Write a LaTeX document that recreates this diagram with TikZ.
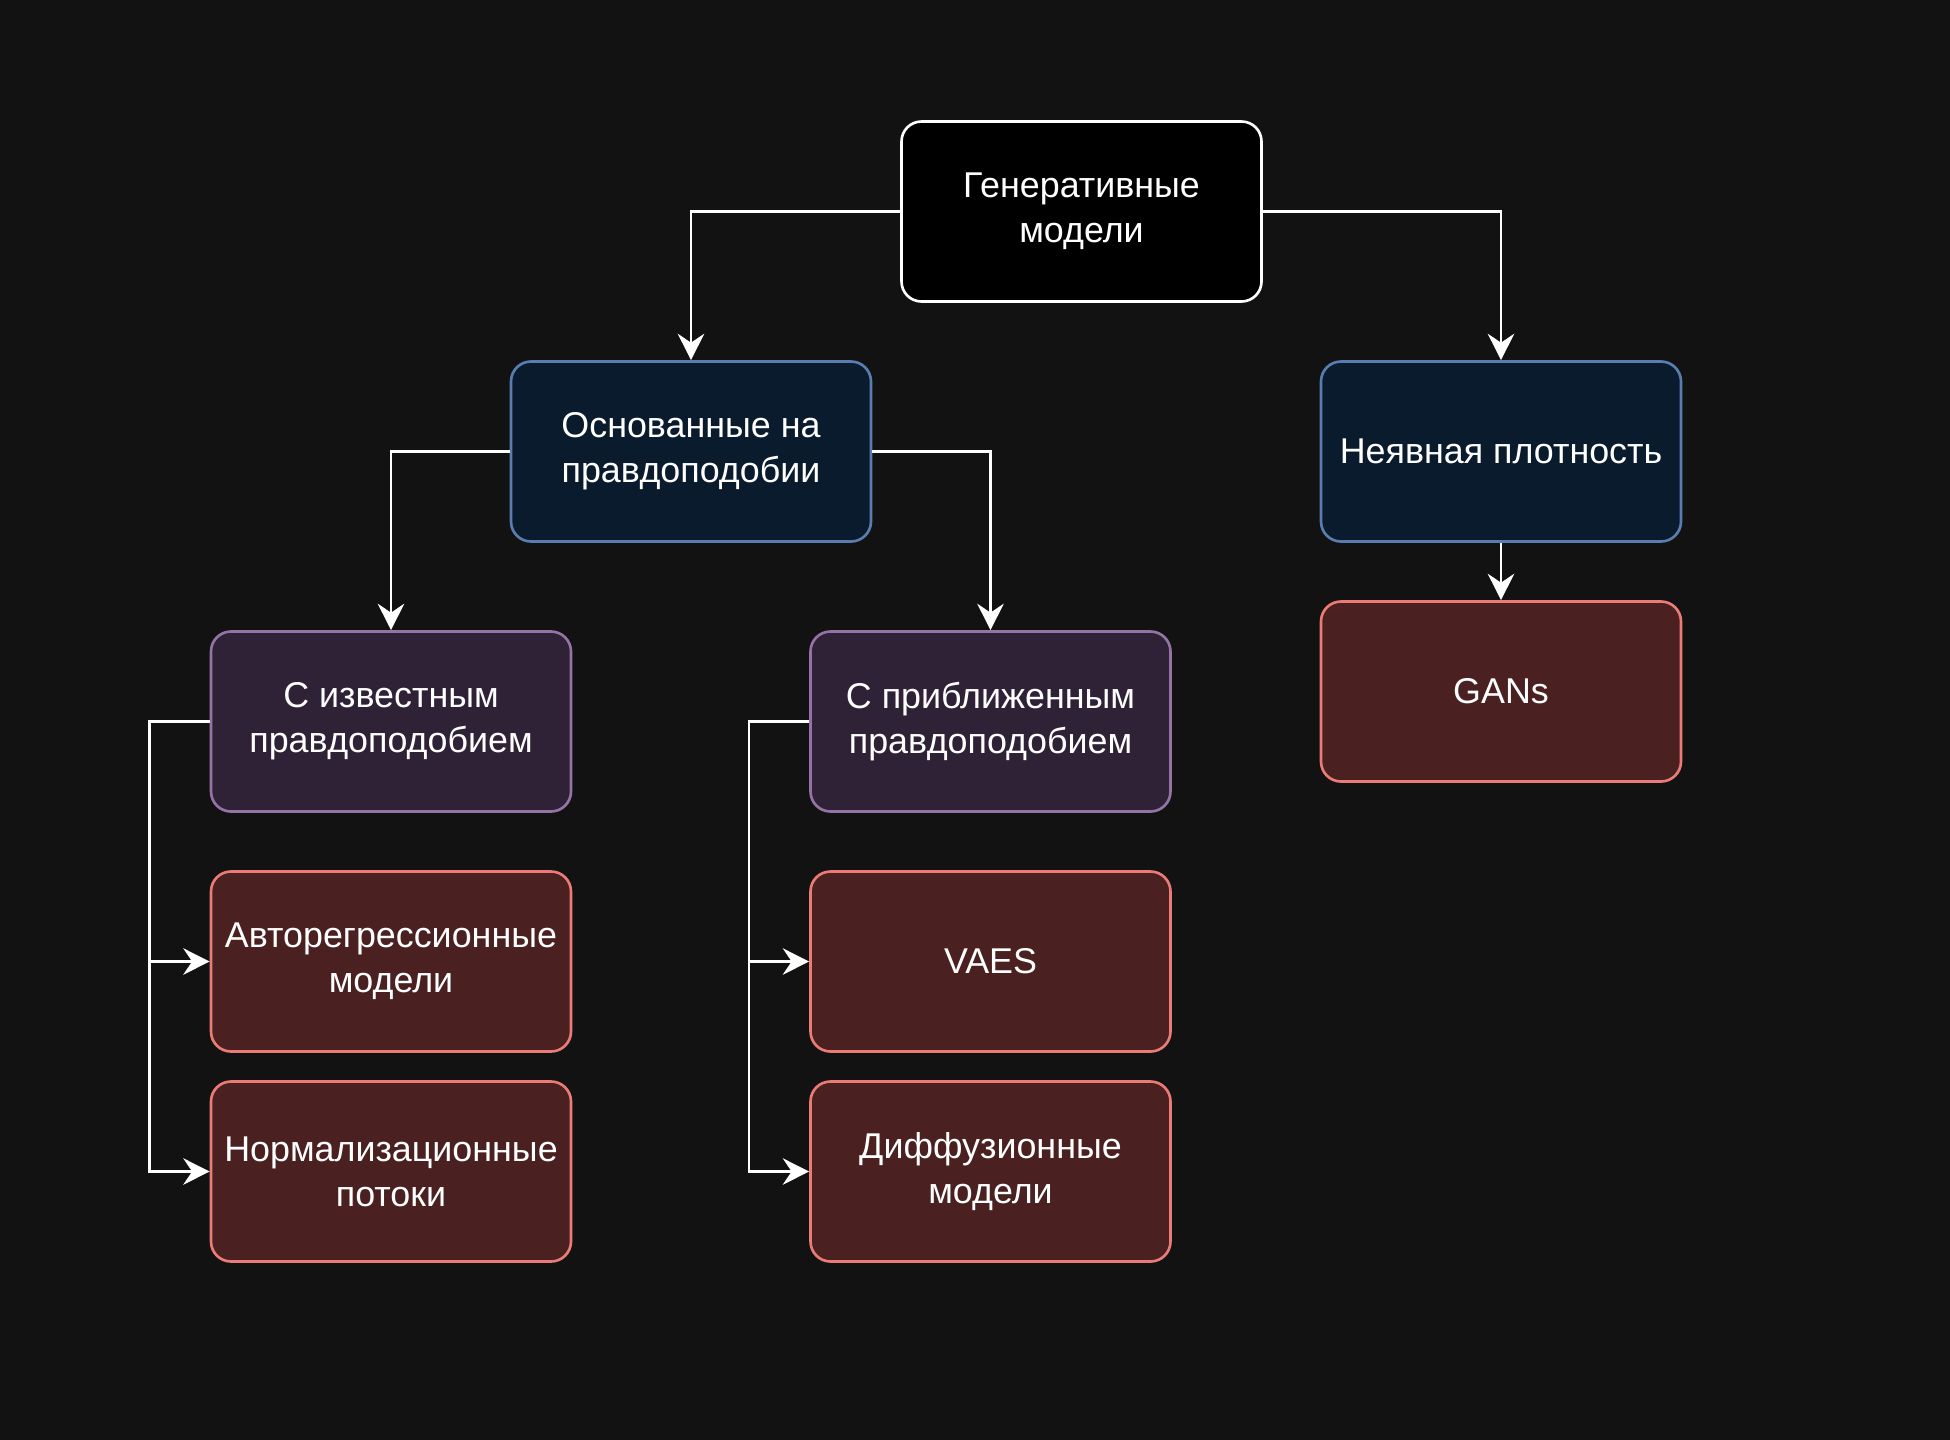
\documentclass[tikz,border=0pt]{standalone}
\usepackage{fontspec}
\setmainfont{Liberation Sans}
\usepackage{xcolor}
\usetikzlibrary{arrows.meta}
\definecolor{PageBg}{HTML}{121212}
\definecolor{BlueFill}{HTML}{0B1B2E}
\definecolor{BlueLine}{HTML}{5A7DB0}
\definecolor{PurpleFill}{HTML}{2F2236}
\definecolor{PurpleLine}{HTML}{9673A6}
\definecolor{RedFill}{HTML}{4A2020}
\definecolor{RedLine}{HTML}{EA7B76}

\begin{document}
\begin{tikzpicture}[every node/.style={font=\fontsize{10.2}{12.8}\selectfont, text=white},
                    box/.style={rounded corners=0.2cm, line width=0.75pt,
                                minimum width=3.6cm, minimum height=1.8cm,
                                inner sep=2pt, align=center},
                    rootbox/.style={box, draw=white, fill=black},
                    bluebox/.style={box, draw=BlueLine, fill=BlueFill},
                    purplebox/.style={box, draw=PurpleLine, fill=PurpleFill},
                    redbox/.style={box, draw=RedLine, fill=RedFill},
                    ar/.style={-{Stealth[length=7.5pt,width=7.5pt,inset=2.5pt]},white,line width=0.7pt}]
      \fill[PageBg] (0,0) rectangle (19.5,-14.4);
      \node[rootbox] (gen) at (10.815,-2.115) {Генеративные\\модели};
      \node[bluebox] (lik) at (6.91,-4.515) {Основанные на\\правдоподобии};
      \node[bluebox] (impl) at (15.01,-4.515) {Неявная плотность};
      \node[redbox] (gans) at (15.01,-6.915) {GANs};
      \node[purplebox] (known) at (3.91,-7.215) {С известным\\правдоподобием};
      \node[purplebox] (approx) at (9.905,-7.215) {С приближенным\\правдоподобием};
      \node[redbox] (autoreg) at (3.91,-9.615) {Авторегрессионные\\модели};
      \node[redbox] (flows) at (3.91,-11.715) {Нормализационные\\потоки};
      \node[redbox] (vaes) at (9.905,-9.615) {VAES};
      \node[redbox] (diff) at (9.905,-11.715) {Диффузионные\\модели};
      \draw[ar] (gen.west) -| (lik.north);
      \draw[ar] (gen.east) -| (impl.north);
      \draw[ar] (lik.west) -| (known.north);
      \draw[ar] (lik.east) -| (approx.north);
      \draw[ar] (impl) -- (gans);
      \draw[ar] (known.west) -- ++(-0.6,0) |- (autoreg.west);
      \draw[ar] (known.west) -- ++(-0.6,0) |- (flows.west);
      \draw[ar] (approx.west) -- ++(-0.6,0) |- (vaes.west);
      \draw[ar] (approx.west) -- ++(-0.6,0) |- (diff.west);
    \end{tikzpicture}
\end{document}
